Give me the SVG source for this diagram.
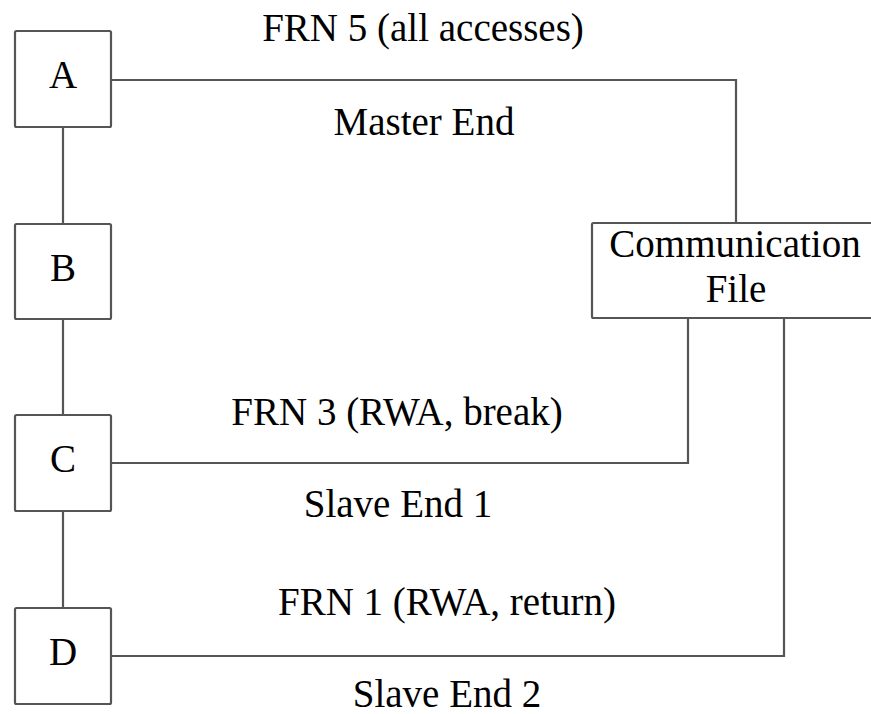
<svg xmlns="http://www.w3.org/2000/svg" width="871" height="714" viewBox="0 0 871 714">
<style>
.box{fill:#fff;stroke:#555;stroke-width:2.2}
.ln{fill:none;stroke:#555;stroke-width:2.2}
text{font-family:"Liberation Serif","Times New Roman",serif;font-size:39px;fill:#000;text-anchor:middle}
</style>
<rect width="871" height="714" fill="#fff"/>
<g id="connectors">
<path class="ln" d="M63 127V224M63 319V415M63 511V608"/>
<path class="ln" d="M111 80H736V223"/>
<path class="ln" d="M111 463H688V318"/>
<path class="ln" d="M111 656H784V318"/>
</g>
<g id="A"><rect class="box" x="15" y="31" width="96" height="96" rx="1.5"/><text x="63" y="88">A</text></g>
<g id="B"><rect class="box" x="15" y="224" width="96" height="95" rx="1.5"/><text x="63" y="281">B</text></g>
<g id="C"><rect class="box" x="15" y="415" width="96" height="96" rx="1.5"/><text x="63" y="472">C</text></g>
<g id="D"><rect class="box" x="15" y="608" width="96" height="96" rx="1.5"/><text x="63" y="665">D</text></g>
<g id="CommFile"><rect class="box" x="592" y="223" width="300" height="95" rx="1.5"/><text x="735" y="257">Communication</text><text x="736" y="302">File</text></g>
<g id="labels">
<text x="423" y="41">FRN 5 (all accesses)</text>
<text x="424" y="135">Master End</text>
<text x="397" y="425">FRN 3 (RWA, break)</text>
<text x="398" y="517">Slave End 1</text>
<text x="447" y="615">FRN 1 (RWA, return)</text>
<text x="447" y="707">Slave End 2</text>
</g>
</svg>
